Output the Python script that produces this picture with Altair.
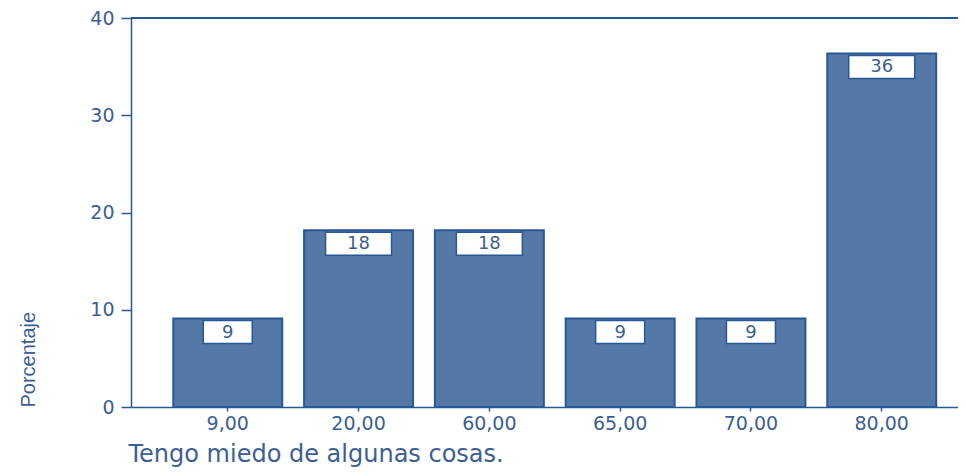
import altair as alt
import pandas as pd

categories = ["9,00", "20,00", "60,00", "65,00", "70,00", "80,00"]
percentages = [9.09, 18.18, 18.18, 9.09, 9.09, 36.36]
bar_labels = ["9", "18", "18", "9", "9", "36"]

df = pd.DataFrame({"cat": categories, "pct": percentages, "lab": bar_labels})
df["digits"] = df["lab"].str.len()

BLUE = "#2a5796"
FILL = "#5579a6"
TXT = "#3b5f94"
W, H = 827, 389

x = alt.X("cat:N", sort=categories,
          scale=alt.Scale(paddingInner=0.167, paddingOuter=0.245, align=0.66),
          axis=alt.Axis(title="Tengo miedo de algunas cosas.", labelAngle=0,
                        labelFont="DejaVu Sans", labelFontSize=19, labelColor=TXT,
                        labelPadding=3, tickSize=4, tickColor=BLUE, tickWidth=1.5,
                        domainColor=BLUE, domainWidth=1.5,
                        titleFont="DejaVu Sans", titleFontSize=24, titleFontWeight="normal",
                        titleColor=TXT, titleAnchor="start", titleAlign="left",
                        titleX=-3, titleY=54, titleBaseline="alphabetic"))
y = alt.Y("pct:Q", scale=alt.Scale(domain=[0, 40]),
          axis=alt.Axis(title="Porcentaje", values=[0, 10, 20, 30, 40], grid=False,
                        labelFont="DejaVu Sans", labelFontSize=19, labelColor=TXT,
                        labelPadding=7, tickSize=10, tickColor=BLUE, tickWidth=1.5,
                        domainColor=BLUE, domainWidth=1.5,
                        titleFont="Liberation Sans", titleFontSize=20,
                        titleFontWeight="normal", titleColor=TXT, titleAngle=270,
                        titleAnchor="start", titleAlign="left", titleX=-97, titleY=H,
                        titleBaseline="alphabetic"))

base = alt.Chart(df)
bars = base.mark_bar(fill=FILL, stroke=BLUE, strokeWidth=2).encode(x=x, y=y)
top = base.mark_rule(stroke=BLUE, strokeWidth=1.5).encode(
    x=alt.value(0), x2=alt.value(W), y=alt.datum(40))
box1 = base.transform_filter("datum.digits == 1").mark_rect(
    fill="white", stroke=BLUE, strokeWidth=1.5, width=49, height=23).encode(
    x=alt.X("cat:N", sort=categories), y="pct:Q", yOffset=alt.value(13.5))
box2 = base.transform_filter("datum.digits == 2").mark_rect(
    fill="white", stroke=BLUE, strokeWidth=1.5, width=66, height=23).encode(
    x=alt.X("cat:N", sort=categories), y="pct:Q", yOffset=alt.value(13.5))
text = base.mark_text(font="DejaVu Sans", fontSize=18, color=TXT, baseline="middle",
                      dy=14).encode(x=alt.X("cat:N", sort=categories), y="pct:Q", text="lab:N")

chart = alt.layer(bars, top, box1, box2, text).properties(
    width=W, height=H,
    autosize=alt.AutoSizeParams(type="none"),
    padding={"left": 123, "top": 10, "right": 0, "bottom": 60},
).configure_view(stroke=None)

chart.save("out.html", embed_options={"renderer": "svg", "actions": False})
